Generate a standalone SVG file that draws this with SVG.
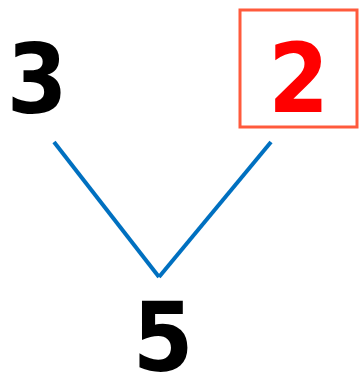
<svg xmlns="http://www.w3.org/2000/svg" width="360" height="375" viewBox="0 0 360 375">
<style>
.num{font-family:"DejaVu Sans Condensed","DejaVu Sans","Liberation Sans",sans-serif;font-stretch:condensed;font-weight:bold;font-size:97px;text-anchor:middle}
.edge{stroke:#0070c0;stroke-width:4;fill:none}
</style>
<rect width="360" height="375" fill="#ffffff"/>
<g id="connectors">
<line class="edge" x1="54" y1="142" x2="159" y2="277"/>
<line class="edge" x1="271" y1="142" x2="159" y2="277"/>
</g>
<g id="node-3">
<text class="num" x="37" y="113" fill="#000000">3</text>
</g>
<g id="node-2">
<rect x="240" y="10" width="117" height="117" fill="none" stroke="#ff5a3c" stroke-width="3"/>
<text class="num" x="298.5" y="112" fill="#ff0000">2</text>
</g>
<g id="node-5">
<text class="num" x="163" y="371" fill="#000000">5</text>
</g>
</svg>
